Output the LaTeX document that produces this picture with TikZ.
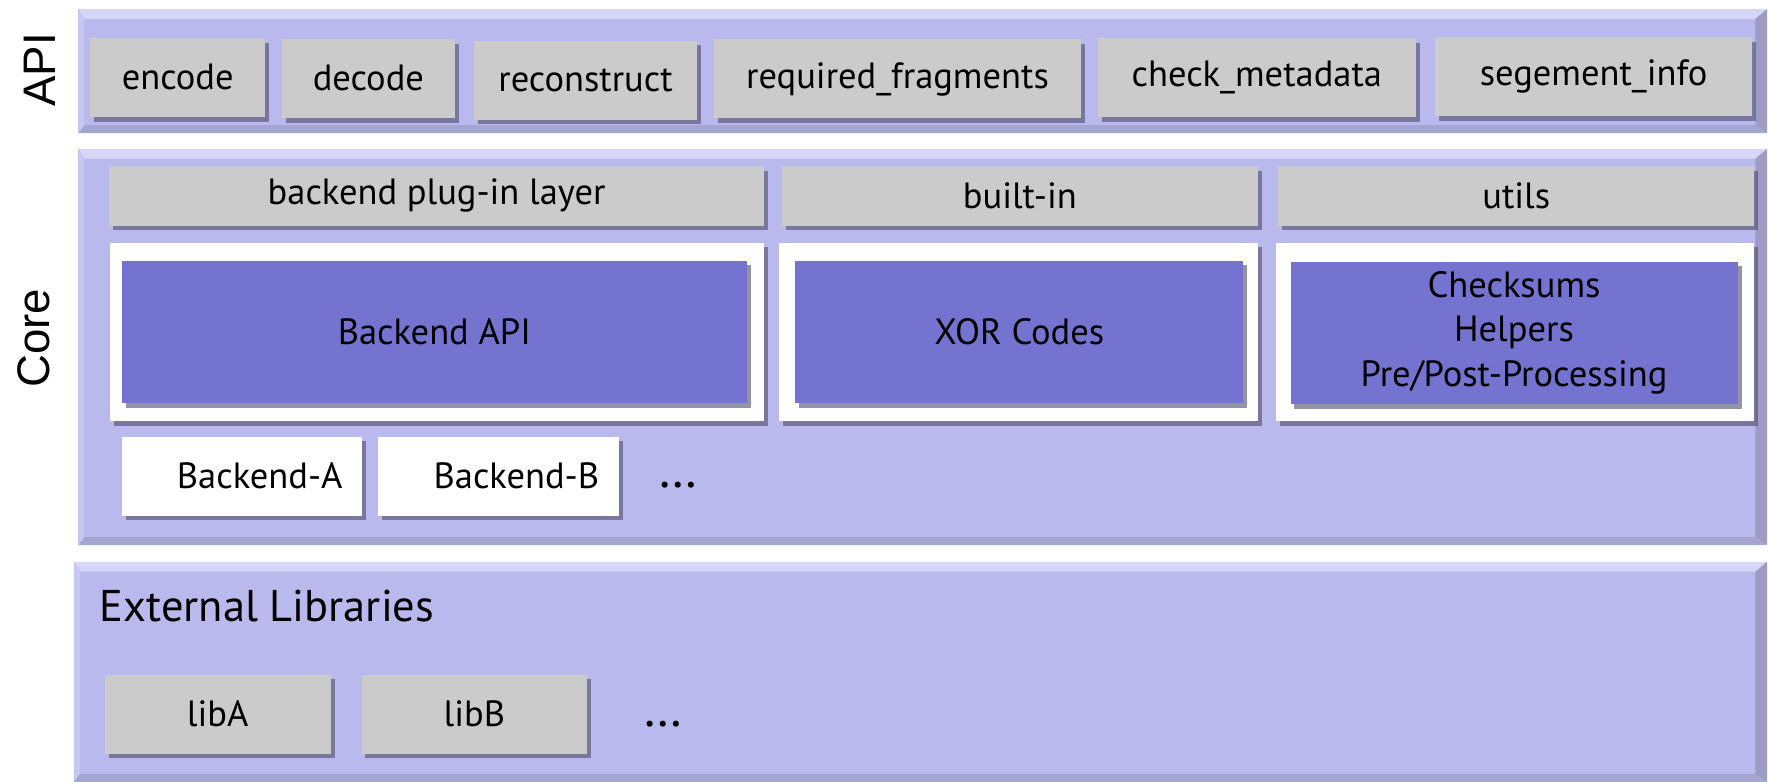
\documentclass[tikz,border=0pt]{standalone}
\usepackage{fontspec}
\setmainfont{PT Sans}
\newfontfamily\sidefont{Liberation Sans}
\usepackage{tikz}
\usetikzlibrary{shadows}
\definecolor{stackLavender}{HTML}{B9B9EE}
\definecolor{stackLavenderHi}{HTML}{D6D6F8}
\definecolor{stackLavenderLo}{HTML}{9C9CC4}
\definecolor{stackGray}{HTML}{CBCBCB}
\definecolor{stackPurple}{HTML}{7473CF}
\definecolor{stackShadow}{HTML}{4C4C6C}
\tikzset{
  panel/.style={
    rectangle,
    fill=stackLavender,
    inner sep=0pt,
    path picture={
      \coordinate (pnw) at (path picture bounding box.north west);
      \coordinate (pne) at (path picture bounding box.north east);
      \coordinate (psw) at (path picture bounding box.south west);
      \coordinate (pse) at (path picture bounding box.south east);
      \fill[stackLavenderHi] (pnw) -- (pne) -- ([shift={(-3pt,-2.5pt)}]pne) -- ([shift={(1.5pt,-2.5pt)}]pnw) -- cycle;
      \fill[stackLavenderHi!50!stackLavender] (pnw) -- ([shift={(1.5pt,-2.5pt)}]pnw) -- ([shift={(1.5pt,2pt)}]psw) -- (psw) -- cycle;
      \fill[stackLavenderLo] (pne) -- (pse) -- ([shift={(-3pt,2pt)}]pse) -- ([shift={(-3pt,-2.5pt)}]pne) -- cycle;
      \fill[stackLavenderLo!70!stackLavender] (psw) -- (pse) -- ([shift={(-3pt,2pt)}]pse) -- ([shift={(1.5pt,2pt)}]psw) -- cycle;
    }
  },
  boxBase/.style={
    rectangle,
    inner sep=0pt,
    align=center,
    font=\fontsize{9.2}{11.3}\selectfont,
    drop shadow={shadow xshift=1pt, shadow yshift=-1.2pt, fill=stackShadow, opacity=0.6}
  },
  apiCall/.style={boxBase, fill=stackGray, minimum height=0.70cm},
  layerHead/.style={boxBase, fill=stackGray, minimum height=0.53cm},
  slot/.style={boxBase, fill=white, minimum height=1.58cm},
  component/.style={boxBase, fill=stackPurple, minimum height=1.26cm},
  plugin/.style={boxBase, fill=white, minimum height=0.70cm, minimum width=2.13cm, text width=1.78cm, align=right},
  library/.style={boxBase, fill=stackGray, minimum height=0.70cm, minimum width=2.00cm},
  ellipsis/.style={font=\fontsize{13}{15}\selectfont},
  sideLabel/.style={font=\sidefont\fontsize{11.5}{13}\selectfont, rotate=90}
}

\begin{document}
\begin{tikzpicture}[x=0.01cm,y=-0.01cm]
  \useasboundingbox (0,0) rectangle (1568,693);
  \node[panel,minimum width=14.96cm,minimum height=1.10cm] (apiPanel) at (818,63) {};
  \node[panel,minimum width=14.96cm,minimum height=3.51cm] (corePanel) at (818,307.5) {};
  \node[panel,minimum width=15.00cm,minimum height=1.95cm] (extPanel) at (816,595.5) {};
  \node[sideLabel] (apiLabel) at (35,62) {API};
  \node[sideLabel] (coreLabel) at (30,300) {Core};
  \node[apiCall,minimum width=1.55cm] (encode) at (157.5,68.5) {encode};
  \node[apiCall,minimum width=1.53cm] (decode) at (326.5,69.5) {decode};
  \node[apiCall,minimum width=1.98cm] (reconstruct) at (519,71) {reconstruct};
  \node[apiCall,minimum width=3.25cm] (required) at (795.5,70) {required\_fragments};
  \node[apiCall,minimum width=2.82cm] (checkMeta) at (1114,69) {check\_metadata};
  \node[apiCall,minimum width=2.81cm] (segInfo) at (1412.5,68) {segement\_info};
  \node[layerHead,minimum width=5.80cm] (pluginLayer) at (387,173.5) {backend plug-in layer};
  \node[layerHead,minimum width=4.22cm] (builtIn) at (904,173.5) {built-in};
  \node[layerHead,minimum width=4.22cm] (utils) at (1344,173.5) {utils};
  \node[slot,minimum width=5.79cm] (pluginSlot) at (387.5,294) {};
  \node[slot,minimum width=4.24cm] (builtInSlot) at (903,294) {};
  \node[slot,minimum width=4.24cm] (utilsSlot) at (1343,294) {};
  \node[component,minimum width=5.54cm] (backendApi) at (385,294) {Backend API};
  \node[component,minimum width=3.97cm] (xorCodes) at (903.5,294) {XOR Codes};
  \node[component,minimum width=3.96cm] (helpers) at (1342,295) {Checksums\\Helpers\\Pre/Post-Processing};
  \node[plugin] (backendA) at (214.5,422) {Backend-A};
  \node[plugin] (backendB) at (442,422) {Backend-B};
  \node[ellipsis] (moreBackends) at (601,430) {\dots};
  \node[anchor=west,font=\fontsize{11.2}{13}\selectfont] (extTitle) at (76,537) {External Libraries};
  \node[library] (libA) at (193,633) {libA};
  \node[library] (libB) at (420.5,633) {libB};
  \node[ellipsis] (moreLibs) at (588,642) {\dots};
\end{tikzpicture}
\end{document}
